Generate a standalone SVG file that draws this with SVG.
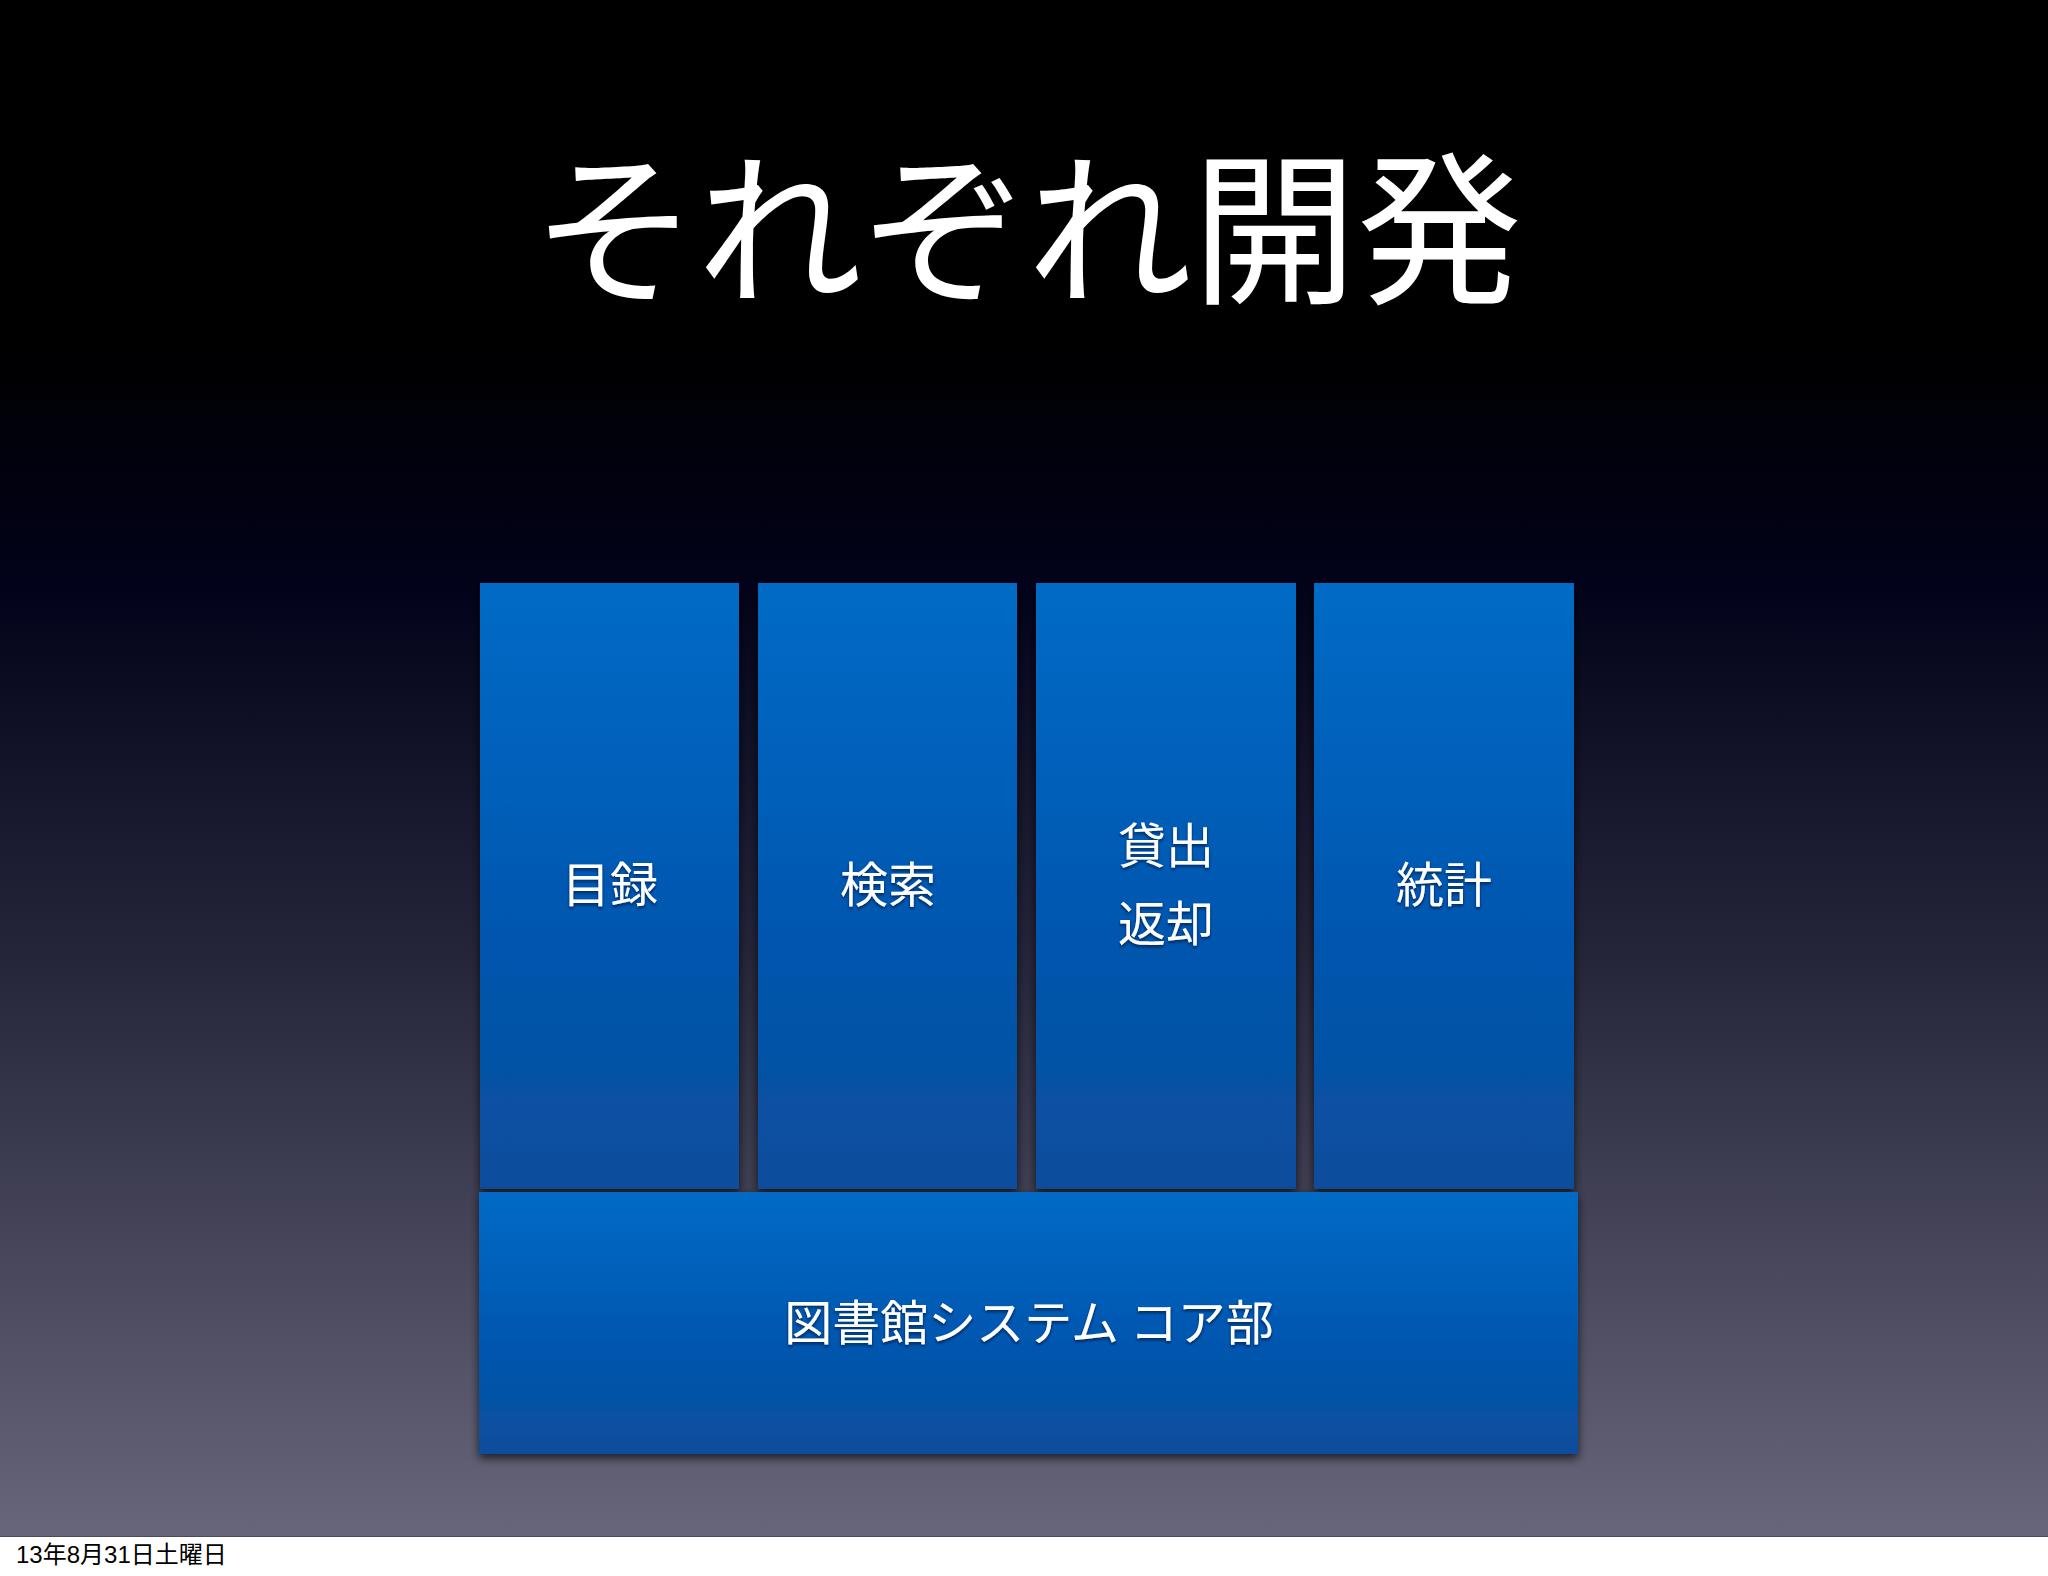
<svg xmlns="http://www.w3.org/2000/svg" width="2048" height="1576" viewBox="0 0 2048 1576">
  <defs>
    <linearGradient id="bg" x1="0" y1="0" x2="0" y2="1">
      <stop offset="0" stop-color="#000000"/>
      <stop offset="0.22" stop-color="#000000"/>
      <stop offset="0.38" stop-color="#02021a"/>
      <stop offset="0.62" stop-color="#25253a"/>
      <stop offset="1" stop-color="#67667a"/>
    </linearGradient>
    <linearGradient id="boxg" x1="0" y1="0" x2="0" y2="1">
      <stop offset="0" stop-color="#006bc6"/>
      <stop offset="0.5" stop-color="#0059b2"/>
      <stop offset="1" stop-color="#0a4d9c"/>
    </linearGradient>
    <filter id="shadow" x="-10%" y="-10%" width="120%" height="120%">
      <feDropShadow dx="0" dy="4" stdDeviation="5" flood-color="#000000" flood-opacity="0.7"/>
    </filter>
    <filter id="tshadow" x="-10%" y="-20%" width="120%" height="140%">
      <feDropShadow dx="0" dy="2" stdDeviation="1.5" flood-color="#001030" flood-opacity="0.7"/>
    </filter>
  </defs>
  <style>
    .box { fill: url(#boxg); filter: url(#shadow); }
    .lbl { font-family: "Noto Sans CJK JP", "Noto Sans", sans-serif; font-size: 48px; fill: #ffffff; text-anchor: middle; filter: url(#tshadow); }
    .title { font-family: "Noto Sans CJK JP", "Noto Sans", sans-serif; font-size: 165px; fill: #ffffff; text-anchor: middle; }
    .foot { font-family: "Liberation Sans", "Noto Sans CJK JP", sans-serif; font-size: 24px; fill: #000000; }
  </style>
  <rect x="0" y="0" width="2048" height="1576" fill="#ffffff"/>
  <rect x="0" y="0" width="2048" height="1537" fill="url(#bg)"/>
  <line x1="0" y1="1536.5" x2="2048" y2="1536.5" stroke="#4a4a58" stroke-width="1"/>
  <text class="title" x="1027" y="291">それぞれ開発</text>

  <g id="node-mokuroku">
    <rect class="box" x="480" y="583" width="259" height="606"/>
    <text class="lbl" x="610" y="902">目録</text>
  </g>
  <g id="node-kensaku">
    <rect class="box" x="758" y="583" width="259" height="606"/>
    <text class="lbl" x="888" y="902">検索</text>
  </g>
  <g id="node-kashidashi">
    <rect class="box" x="1036" y="583" width="260" height="606"/>
    <text class="lbl" x="1166" y="863">貸出</text>
    <text class="lbl" x="1166" y="941">返却</text>
  </g>
  <g id="node-toukei">
    <rect class="box" x="1314" y="583" width="260" height="606"/>
    <text class="lbl" x="1444" y="902">統計</text>
  </g>
  <g id="node-core">
    <rect class="box" x="479" y="1192" width="1099" height="262"/>
    <text class="lbl" x="1029" y="1340">図書館システム コア部</text>
  </g>

  <text class="foot" x="16" y="1563">13年8月31日土曜日</text>
</svg>
